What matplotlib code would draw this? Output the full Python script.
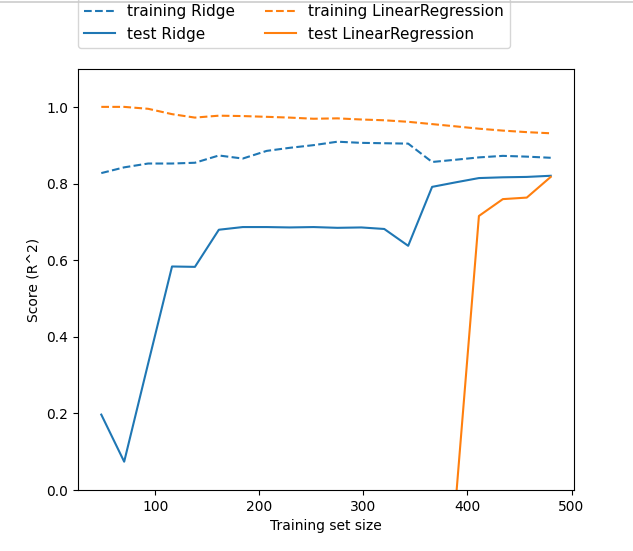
import numpy as np
import matplotlib
matplotlib.use("Agg")
import matplotlib.pyplot as plt
from matplotlib.lines import Line2D

# training set sizes (learning curve)
train_sizes = [48, 70, 93, 116, 138, 161, 184, 207, 229, 252,
               275, 298, 320, 343, 366, 389, 411, 434, 457, 480]

ridge_train = [0.828, 0.843, 0.853, 0.853, 0.855, 0.874, 0.866, 0.886, 0.894, 0.901,
               0.910, 0.907, 0.906, 0.905, 0.857, 0.863, 0.869, 0.873, 0.871, 0.868]
ridge_test = [0.197, 0.074, 0.33, 0.584, 0.583, 0.680, 0.687, 0.687, 0.686, 0.687,
              0.685, 0.686, 0.682, 0.638, 0.792, 0.804, 0.815, 0.817, 0.818, 0.821]
lr_train = [1.001, 1.001, 0.996, 0.982, 0.973, 0.978, 0.977, 0.975, 0.973, 0.970,
            0.971, 0.968, 0.966, 0.962, 0.956, 0.950, 0.944, 0.939, 0.935, 0.932]
lr_test = [-60.0, -25.0, -12.0, -8.0, -6.0, -4.5, -3.5, -3.0, -2.6, -2.2,
           -1.9, -1.6, -1.4, -1.2, -1.0, -0.02, 0.716, 0.760, 0.764, 0.818]

fig = plt.figure(figsize=(6.33, 5.51), dpi=100)
ax = fig.add_axes([0.1232, 0.1107, 0.7836, 0.7641])

line, = ax.plot(train_sizes, ridge_train, '--', label="training Ridge")
ax.plot(train_sizes, ridge_test, '-', c=line.get_color(), label="test Ridge")
line, = ax.plot(train_sizes, lr_train, '--', label="training LinearRegression")
ax.plot(train_sizes, lr_test, '-', c=line.get_color(), label="test LinearRegression")

ax.set_xlim(25.6, 502.4)
ax.set_ylim(0, 1.1)
ax.set_xlabel("Training set size")
ax.set_ylabel("Score (R^2)")
ax.legend(loc=(0, 1.05), ncol=2, fontsize=11)

# thin grey rule along the top edge, as in the reference
fig.add_artist(Line2D([0, 1], [0.997, 0.997], transform=fig.transFigure,
                      color='#cccccc', lw=1.2))

fig.savefig("out.png", dpi=100)
